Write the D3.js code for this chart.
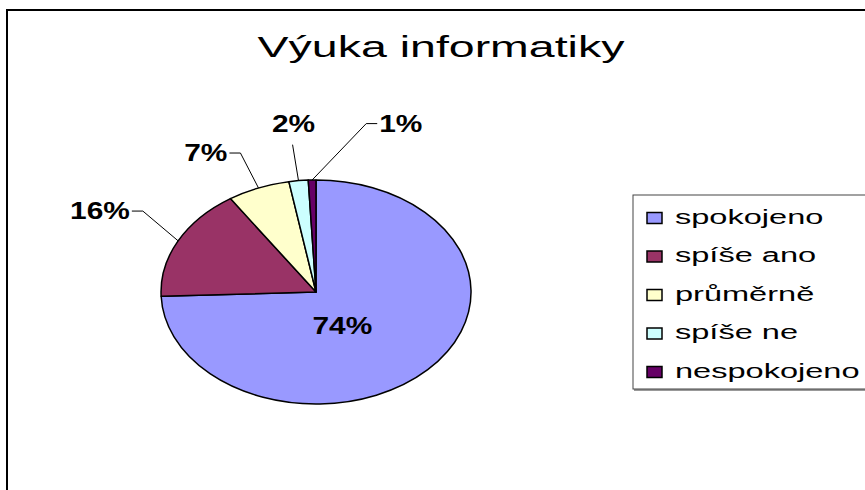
<!DOCTYPE html>
<html>
<head>
<meta charset="utf-8">
<script src="https://cdn.jsdelivr.net/npm/d3@7"></script>
<style>
  body { margin: 0; background: #fff; }
  text { font-family: "Liberation Sans", Arial, sans-serif; }
</style>
</head>
<body>
<div id="container"></div>
<script>
const width = 865;
const height = 490;

// data
const categories = ['spokojeno', 'spíše ano', 'průměrně', 'spíše ne', 'nespokojeno'];
const values = [74.4, 16.3, 6.5, 2.0, 0.8];
const colors = ['#9999ff', '#993366', '#ffffcc', '#ccffff', '#660066'];
const title = 'Výuka informatiky';

// layout (picture is stretched sideways, so text gets a x-scale too)
const cx = 316, cy = 292, rx = 155, ry = 112;
// label spot per slice: [angle in degrees from 12 o'clock, radius factor]
const labelPolar = [[151, 0.35], [297.4, 1.57], [330.2, 1.43], [354.5, 1.51], [20, 1.6]];

const svg = d3.select('#container').append('svg')
    .attr('width', width)
    .attr('height', height)
    .attr('viewBox', `0 0 ${width} ${height}`);

// chart frame
svg.append('rect')
    .attr('x', 7).attr('y', 10)
    .attr('width', 920).attr('height', 520)
    .attr('fill', 'none')
    .attr('stroke', '#000')
    .attr('stroke-width', 2);

function stretchedText(parent, x, y, str, size, sx, weight, anchor) {
    return parent.append('text')
        .attr('transform', `translate(${x},${y}) scale(${sx},1)`)
        .attr('font-size', size)
        .attr('font-weight', weight || 'normal')
        .attr('text-anchor', anchor || 'start')
        .attr('fill', '#000')
        .text(str);
}

stretchedText(svg, 441, 57, title, 30, 1.55, 'normal', 'middle');

// pie
const total = d3.sum(values);
const pie = d3.pie().sort(null).value(d => d);
const arcs = pie(values);
const arc = d3.arc().innerRadius(0).outerRadius(1);

svg.append('g')
    .attr('transform', `translate(${cx},${cy}) scale(${rx},${ry})`)
    .selectAll('path')
    .data(arcs)
    .join('path')
    .attr('d', arc)
    .attr('fill', (d, i) => colors[i])
    .attr('stroke', '#000')
    .attr('stroke-width', 1.5)
    .attr('stroke-linejoin', 'round')
    .attr('vector-effect', 'non-scaling-stroke');

// labels + leader lines
const pct = v => Math.round(v / total * 100) + '%';
const labels = svg.append('g');
const leaders = svg.append('g');

arcs.forEach((d, i) => {
    const a = labelPolar[i][0] * Math.PI / 180;
    const k = labelPolar[i][1];
    const lx = cx + rx * k * Math.sin(a);
    const ly = cy - ry * k * Math.cos(a);
    const t = stretchedText(labels, lx, ly + 8, pct(d.value), 23, 1.3, 'bold', 'middle');
    if (k < 1) return;

    const w = t.node().getBBox().width * 1.3;
    const mid = (d.startAngle + d.endAngle) / 2;
    const ex = cx + rx * Math.sin(mid);
    const ey = cy - ry * Math.cos(mid);
    let pts;
    if (Math.abs(ex - lx) < w / 2) {
        pts = [[lx - 1, ly + 21], [ex, ey]];
    } else if (ex > lx) {
        const side = lx + w / 2 + 2;
        pts = [[side, ly], [side + 11, ly], [ex, ey]];
    } else {
        const side = lx - w / 2 - 2;
        pts = [[side, ly], [side - 11, ly], [ex, ey]];
    }
    leaders.append('path')
        .attr('d', d3.line()(pts))
        .attr('fill', 'none')
        .attr('stroke', '#000')
        .attr('stroke-width', 1);
});

// legend
const legend = svg.append('g');
legend.append('rect')
    .attr('x', 634).attr('y', 196)
    .attr('width', 260).attr('height', 195)
    .attr('fill', '#999');
legend.append('rect')
    .attr('x', 633).attr('y', 195)
    .attr('width', 260).attr('height', 194)
    .attr('fill', '#fff')
    .attr('stroke', '#444')
    .attr('stroke-width', 1);

const rowY = d3.scalePoint().domain(categories).range([218, 372]);

const item = legend.selectAll('g.item')
    .data(categories)
    .join('g')
    .attr('class', 'item');

item.append('rect')
    .attr('x', 647)
    .attr('y', d => rowY(d) - 5.5)
    .attr('width', 15)
    .attr('height', 11)
    .attr('fill', (d, i) => colors[i])
    .attr('stroke', '#000')
    .attr('stroke-width', 1.5);

item.each(function(d) {
    stretchedText(d3.select(this), 675, rowY(d) + 5.5, d, 21, 1.55);
});
</script>
</body>
</html>
